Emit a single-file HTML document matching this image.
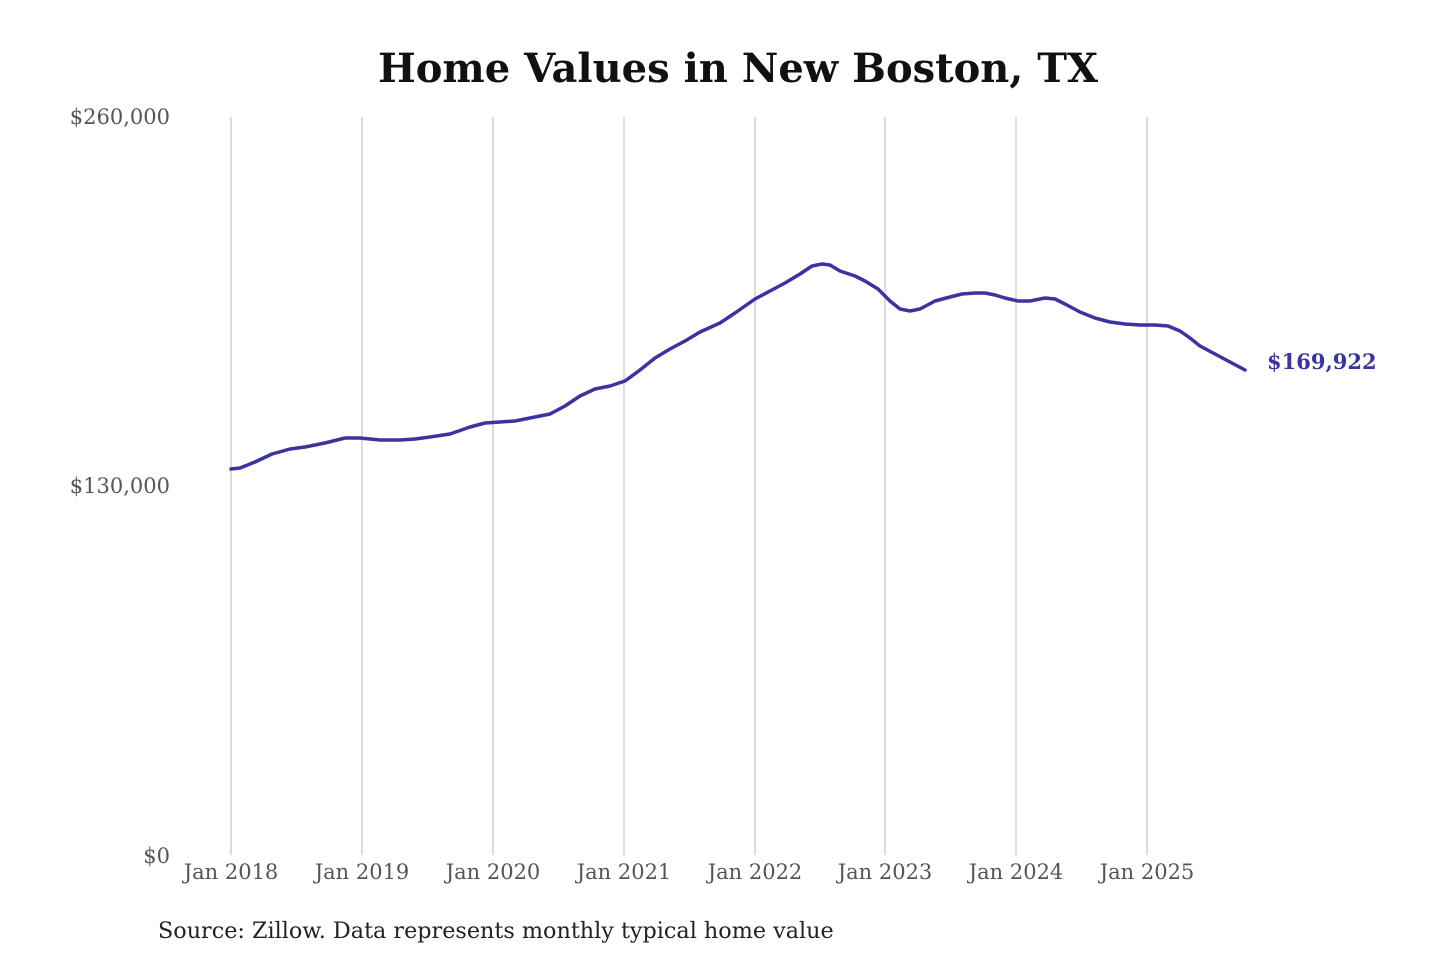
<!DOCTYPE html>
<html><head><meta charset="utf-8"><style>
body{margin:0;background:#fff;}
svg text{font-family:"DejaVu Serif","Liberation Serif",serif;}
</style></head><body>
<svg width="1440" height="960" viewBox="0 0 1440 960" xmlns="http://www.w3.org/2000/svg">
<rect width="1440" height="960" fill="#fff"/>
<text x="738" y="82" text-anchor="middle" font-size="40" font-weight="bold" fill="#111">Home Values in New Boston, TX</text>
<g stroke="#c8c8c8" stroke-width="1.3">
<line x1="231" y1="117" x2="231" y2="855"/><line x1="362" y1="117" x2="362" y2="855"/>
<line x1="493" y1="117" x2="493" y2="855"/><line x1="624" y1="117" x2="624" y2="855"/>
<line x1="755" y1="117" x2="755" y2="855"/><line x1="885" y1="117" x2="885" y2="855"/>
<line x1="1016" y1="117" x2="1016" y2="855"/><line x1="1147" y1="117" x2="1147" y2="855"/>
</g>
<g font-size="21" fill="#555" text-anchor="end">
<text x="170" y="124">$260,000</text>
<text x="170" y="493">$130,000</text>
<text x="170" y="863">$0</text>
</g>
<g font-size="21" fill="#555" text-anchor="middle">
<text x="231" y="879">Jan 2018</text><text x="362" y="879">Jan 2019</text>
<text x="493" y="879">Jan 2020</text><text x="624" y="879">Jan 2021</text>
<text x="755" y="879">Jan 2022</text><text x="885" y="879">Jan 2023</text>
<text x="1016" y="879">Jan 2024</text><text x="1147" y="879">Jan 2025</text>
</g>
<polyline fill="none" stroke="#3a33a0" stroke-width="3.5" stroke-linejoin="round" stroke-linecap="round" points="231,469 240,468 255,462 272,454 290,449 305,447 325,443 345,438 360,438 380,440 400,440 415,439 430,437 450,434 470,427 485,423 500,422 515,421 530,418 550,414 565,406 580,396 595,389 610,386 625,381 640,370 655,358 670,349 685,341 700,332 720,323 735,313 755,299 770,291 785,283 800,274 812,266 822,264 830,265 840,271 855,276 865,281 878,289 890,301 900,309 910,311 920,309 935,301 950,297 962,294 975,293 985,293 995,295 1005,298 1018,301 1030,301 1045,298 1055,299 1065,304 1080,312 1095,318 1110,322 1125,324 1140,325 1155,325 1168,326 1180,331 1190,338 1200,346 1215,354 1230,362 1245,370"/>
<text x="1267" y="369" font-size="21" font-weight="bold" fill="#3a33a0">$169,922</text>
<text x="158" y="938" font-size="22.3" fill="#222">Source: Zillow. Data represents monthly typical home value</text>
</svg>
</body></html>
